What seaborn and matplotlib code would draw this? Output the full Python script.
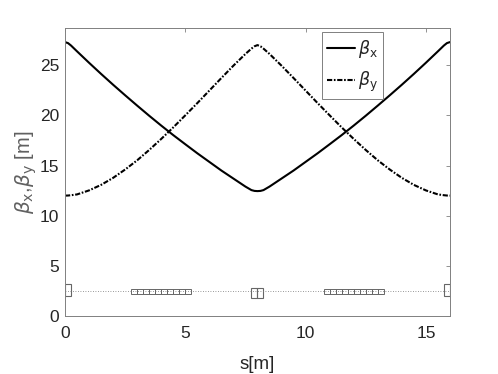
import matplotlib
matplotlib.use("Agg")
import matplotlib.pyplot as plt
from matplotlib.patches import Rectangle
import seaborn as sns
import pandas as pd

# beta functions (one FODO cell, 16 m)
s_pos = [0.0, 0.125, 0.25, 0.5, 1.0, 1.5, 2.0, 2.5, 3.0, 3.5, 4.0, 4.5, 5.0, 5.5,
         6.0, 6.5, 7.0, 7.5, 7.75, 7.875, 8.0,
         8.125, 8.25, 8.5, 9.0, 9.5, 10.0, 10.5, 11.0, 11.5, 12.0, 12.5, 13.0,
         13.5, 14.0, 14.5, 15.0, 15.5, 15.75, 15.875, 16.0]
beta_x = [27.30, 27.20, 26.96, 26.38, 25.24, 24.13, 23.05, 22.00, 20.97, 19.96,
          18.98, 18.03, 17.12, 16.22, 15.36, 14.50, 13.70, 12.90, 12.55, 12.47, 12.45,
          12.47, 12.55, 12.90, 13.70, 14.50, 15.36, 16.22, 17.12, 18.03, 18.98,
          19.96, 20.97, 22.00, 23.05, 24.13, 25.24, 26.38, 26.96, 27.20, 27.30]
beta_y = [12.00, 12.01, 12.04, 12.12, 12.52, 13.07, 13.77, 14.60, 15.52, 16.55,
          17.65, 18.80, 20.00, 21.22, 22.47, 23.72, 24.95, 26.12, 26.65, 26.88, 27.00,
          26.88, 26.65, 26.12, 24.95, 23.72, 22.47, 21.22, 20.00, 18.80, 17.65,
          16.55, 15.52, 14.60, 13.77, 13.07, 12.52, 12.12, 12.04, 12.01, 12.00]

# lattice layout [m]
quad_start = [0.0, 7.75, 8.0, 15.75]
quad_len = [0.25, 0.25, 0.25, 0.25]
quad_focusing = [True, False, False, True]
dipole_start = [2.75, 3.0, 3.25, 3.5, 3.75, 4.0, 4.25, 4.5, 4.75, 5.0,
                10.75, 11.0, 11.25, 11.5, 11.75, 12.0, 12.25, 12.5, 12.75, 13.0]
dipole_len = 0.25
lattice_level = 2.5

df = pd.DataFrame({"s": s_pos, "bx": beta_x, "by": beta_y})

sns.set_style("white")
plt.rcParams["font.family"] = ["Liberation Sans", "DejaVu Sans"]
plt.rcParams["mathtext.fontset"] = "dejavusans"

fig = plt.figure(figsize=(4.98, 3.74), dpi=100)
ax = fig.add_axes([0.1305, 0.155, 0.773, 0.770])

sns.lineplot(data=df, x="s", y="bx", ax=ax, color="black", lw=1.5,
             label=r"$\beta_\mathsf{x}$", sort=False)
sns.lineplot(data=df, x="s", y="by", ax=ax, color="black", lw=1.5,
             linestyle=(0, (2.5, 0.8, 0.8, 0.8)), label=r"$\beta_\mathsf{y}$",
             sort=False)

# lattice sketch
ax.axhline(lattice_level, color="#777777", lw=0.6, ls=(0, (1, 2)))
for st, ln, foc in zip(quad_start, quad_len, quad_focusing):
    lo, hi = (2.0, 3.15) if foc else (1.8, 2.8)
    ax.add_patch(Rectangle((st, lo), ln, hi - lo, fill=False,
                           edgecolor="#666666", lw=0.8, clip_on=True))
for st in dipole_start:
    ax.add_patch(Rectangle((st, 2.2), dipole_len, 0.5, fill=False,
                           edgecolor="#666666", lw=0.7))

ax.set_xlim(0, 16)
ax.set_ylim(0, 28.7)
ax.set_xticks([0, 5, 10, 15])
ax.set_yticks([0, 5, 10, 15, 20, 25])
ax.tick_params(direction="in", length=3, width=0.6, colors="#808080",
               labelcolor="#262626", labelsize=12.5, top=True, right=True,
               pad=4)
ax.tick_params(axis="x", pad=7)
for sp in ax.spines.values():
    sp.set_color("#808080")
    sp.set_linewidth(0.7)

ax.set_xlabel("s[m]", fontsize=13.5, color="#262626")
ax.xaxis.set_label_coords(0.5, -0.14)
ax.set_ylabel(r"$\beta_\mathsf{x}$,$\beta_\mathsf{y}$ [m]", fontsize=14.5,
              color="#606060")
ax.yaxis.set_label_coords(-0.068, 0.5)

leg = ax.legend(loc="upper right", bbox_to_anchor=(0.826, 0.985), fontsize=12.5,
                handlelength=1.6, fancybox=False, framealpha=1,
                edgecolor="#808080", borderpad=0.3, labelspacing=0.6,
                handletextpad=0.15, borderaxespad=0)
leg.get_frame().set_linewidth(0.7)

fig.savefig("out.png", dpi=100)
